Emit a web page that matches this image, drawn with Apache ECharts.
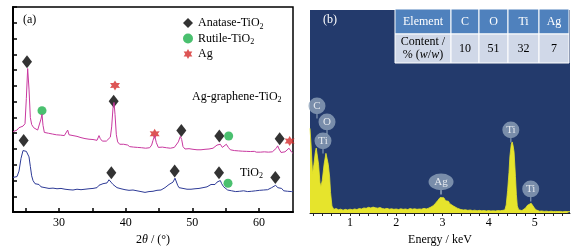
<!DOCTYPE html>
<html>
<head>
<meta charset="utf-8">
<script src="https://cdn.jsdelivr.net/npm/echarts@6/dist/echarts.min.js"></script>
<style>
  html, body { margin: 0; padding: 0; background: #fff; }
  #chart { width: 575px; height: 251px; }
</style>
</head>
<body>
<div id="chart"></div>
<script>
// XRD patterns, [2theta, intensity a.u.]
const tio2Pattern = [
  [23.1,2.2],[23.4,2.3],[23.7,2.25],[24.0,2.6],[24.3,3.4],[24.6,3.9],[24.9,4.0],[25.1,3.85],[25.3,3.9],[25.5,3.5],
  [25.7,2.9],[25.9,2.3],[26.1,2.0],[26.4,1.8],[26.7,1.7],[27.0,1.75],[27.3,1.6],[27.6,1.65],[27.9,1.55],[28.2,1.62],
  [28.5,1.5],[28.8,1.58],[29.1,1.52],[29.4,1.6],[29.7,1.48],[30.0,1.55],[30.3,1.5],[30.6,1.58],[30.9,1.45],[31.2,1.52],
  [31.5,1.42],[31.8,1.5],[32.1,1.4],[32.4,1.48],[32.7,1.45],[33.0,1.52],[33.3,1.42],[33.6,1.5],[33.9,1.45],[34.2,1.55],
  [34.5,1.48],[34.8,1.58],[35.1,1.5],[35.4,1.6],[35.7,1.55],[36.0,1.7],[36.3,1.65],[36.6,1.8],[36.9,1.75],[37.2,1.85],
  [37.5,2.05],[37.8,1.9],[38.1,1.75],[38.4,1.7],[38.7,1.55],[39.0,1.6],[39.3,1.48],[39.6,1.55],[39.9,1.42],[40.2,1.5],
  [40.5,1.38],[40.8,1.45],[41.1,1.4],[41.4,1.48],[41.7,1.35],[42.0,1.42],[42.3,1.3],[42.6,1.38],[42.9,1.25],[43.2,1.35],
  [43.5,1.3],[43.8,1.4],[44.1,1.32],[44.4,1.42],[44.7,1.38],[45.0,1.45],[45.3,1.4],[45.6,1.5],[45.9,1.55],[46.2,1.6],
  [46.5,1.75],[46.8,1.85],[47.1,1.9],[47.4,2.15],[47.6,2.1],[47.8,1.7],[48.0,1.55],[48.3,1.45],[48.6,1.5],[48.9,1.4],
  [49.2,1.45],[49.5,1.38],[49.8,1.45],[50.1,1.4],[50.4,1.48],[50.7,1.42],[51.0,1.5],[51.3,1.45],[51.6,1.55],[51.9,1.5],
  [52.2,1.6],[52.5,1.7],[52.8,1.75],[53.1,1.8],[53.4,1.75],[53.7,1.9],[54.0,1.85],[54.2,2.0],[54.4,1.8],[54.7,1.6],
  [55.0,1.5],[55.3,1.4],[55.6,1.45],[55.9,1.35],[56.2,1.42],[56.5,1.3],[56.8,1.38],[57.1,1.32],[57.4,1.4],[57.7,1.35],
  [58.0,1.42],[58.3,1.3],[58.6,1.38],[58.9,1.32],[59.2,1.4],[59.5,1.35],[59.8,1.42],[60.1,1.38],[60.4,1.45],[60.7,1.4],
  [61.0,1.45],[61.3,1.42],[61.6,1.5],[61.9,1.55],[62.2,1.65],[62.5,1.7],[62.8,1.55],[63.1,1.45],[63.4,1.5],[63.7,1.35],
  [64.0,1.42],[64.3,1.32],[64.6,1.38],[64.9,1.3],[65.1,1.32]
];
const agGraphenePattern = [
  [23.1,5.1],[23.4,5.15],[23.7,5.2],[24.0,5.35],[24.3,5.3],[24.6,5.45],[24.9,5.6],[25.1,7.2],[25.3,9.1],[25.5,7.8],
  [25.7,6.0],[25.9,5.55],[26.2,5.35],[26.5,5.45],[26.8,5.2],[27.1,5.3],[27.3,5.9],[27.45,6.2],[27.6,5.5],[27.8,5.05],
  [28.1,5.1],[28.4,5.0],[28.7,5.08],[29.0,4.95],[29.3,5.05],[29.6,4.9],[29.9,4.98],[30.2,4.88],[30.5,4.95],[30.8,4.85],
  [31.1,4.95],[31.3,5.2],[31.5,4.9],[31.8,4.8],[32.1,4.85],[32.4,4.75],[32.7,4.8],[33.0,4.68],[33.3,4.72],[33.6,4.62],
  [33.9,4.66],[34.2,4.58],[34.5,4.62],[34.8,4.55],[35.1,4.6],[35.4,4.52],[35.7,4.55],[36.0,4.85],[36.2,4.65],[36.5,4.5],
  [36.8,4.55],[37.1,4.5],[37.4,4.62],[37.7,4.75],[37.9,5.4],[38.1,6.6],[38.25,6.95],[38.4,6.2],[38.6,4.9],[38.8,4.45],
  [39.1,4.3],[39.4,4.25],[39.7,4.3],[40.0,4.2],[40.3,4.25],[40.6,4.15],[40.9,4.22],[41.2,4.12],[41.5,4.2],[41.8,4.1],
  [42.1,4.18],[42.4,4.08],[42.7,4.15],[43.0,4.05],[43.3,4.12],[43.6,4.08],[43.9,4.25],[44.1,4.55],[44.35,4.85],[44.6,4.4],
  [44.9,4.1],[45.2,4.05],[45.5,4.12],[45.8,4.02],[46.1,4.08],[46.4,4.0],[46.7,4.05],[47.0,4.02],[47.3,4.1],[47.6,4.2],
  [47.9,4.45],[48.2,4.8],[48.4,4.6],[48.6,4.15],[48.9,4.0],[49.2,3.98],[49.5,4.02],[49.8,3.92],[50.1,3.98],[50.4,3.9],
  [50.7,3.95],[51.0,3.88],[51.3,3.95],[51.6,3.9],[51.9,3.98],[52.2,3.92],[52.5,4.0],[52.8,4.0],[53.1,4.05],[53.4,4.1],
  [53.7,4.25],[54.0,4.35],[54.2,4.3],[54.5,4.1],[54.8,4.2],[55.1,4.3],[55.4,4.1],[55.7,3.95],[56.0,3.85],[56.3,3.9],
  [56.6,3.82],[56.9,3.88],[57.2,3.8],[57.5,3.86],[57.8,3.8],[58.1,3.85],[58.4,3.78],[58.7,3.84],[59.0,3.78],[59.3,3.85],
  [59.6,3.8],[59.9,3.86],[60.2,3.8],[60.5,3.88],[60.8,3.82],[61.1,3.86],[61.4,3.8],[61.7,3.85],[62.0,3.82],[62.3,3.9],
  [62.6,4.05],[62.8,4.2],[63.0,4.0],[63.3,3.78],[63.6,3.75],[63.9,3.82],[64.2,3.9],[64.5,4.05],[64.7,4.0],[64.9,3.8],
  [65.1,3.72]
];
// phase markers [2theta, height]
const anatasePeaks = [[24.7,4.54],[37.85,2.5],[47.35,2.6],[54.0,2.5],[62.45,2.19],
                      [25.2,9.53],[38.2,7.02],[48.35,5.17],[54.05,4.82],[63.1,4.65]];
const rutilePeaks = [[55.35,1.83],[27.45,6.43],[55.45,4.82]];
const silverPeaks = [[38.4,8.03],[44.35,4.96],[64.6,4.5]];
const xrdTickValues = [25, 30, 35, 40, 45, 50, 55, 60];
const xrdLabelValues = [30, 40, 50, 60];

// EDS spectrum [keV, counts a.u.]
const edsSpectrum = [
  [0.135,41.7],[0.16,33],[0.19,19.5],[0.22,24],[0.25,30],[0.27,32],[0.29,31.5],[0.32,24],[0.35,15],[0.37,13],
  [0.4,16],[0.44,24],[0.48,29.4],[0.51,29],[0.53,24],[0.56,17.7],[0.58,10],[0.61,3.4],[0.65,1.8],[0.7,2.2],
  [0.75,1.6],[0.8,1.9],[0.85,1.4],[0.9,1.8],[0.95,1.5],[1.0,1.9],[1.05,1.6],[1.1,2.0],[1.15,1.7],[1.2,2.2],
  [1.25,2.0],[1.3,2.5],[1.35,2.3],[1.4,2.8],[1.45,2.5],[1.5,2.9],[1.55,2.6],[1.6,2.4],[1.65,2.7],[1.7,2.2],
  [1.75,2.0],[1.8,2.3],[1.85,1.9],[1.9,2.1],[1.95,1.8],[2.0,2.0],[2.05,1.7],[2.1,2.1],[2.15,1.8],[2.2,2.0],
  [2.25,1.7],[2.3,2.2],[2.35,1.9],[2.4,2.1],[2.45,1.8],[2.5,2.0],[2.55,1.9],[2.6,2.3],[2.65,2.0],[2.7,2.4],
  [2.75,2.9],[2.8,3.6],[2.85,4.8],[2.9,6.2],[2.95,7.6],[2.99,8.4],[3.03,7.5],[3.07,6.0],[3.1,5.2],[3.13,5.8],
  [3.16,4.6],[3.2,4.1],[3.24,3.4],[3.28,2.8],[3.32,2.4],[3.36,2.0],[3.4,1.7],[3.45,1.5],[3.5,1.6],[3.55,1.3],
  [3.6,1.5],[3.65,1.2],[3.7,1.4],[3.75,1.1],[3.8,1.3],[3.85,1.1],[3.9,1.2],[3.95,1.0],[4.0,1.2],[4.05,1.0],
  [4.1,1.1],[4.15,1.0],[4.2,1.2],[4.25,1.1],[4.3,1.3],[4.35,1.5],[4.38,4],[4.41,11],[4.44,20],[4.46,28],
  [4.49,34],[4.51,35],[4.53,33],[4.55,30],[4.58,18],[4.6,9],[4.62,3.5],[4.65,1.6],[4.68,1.3],[4.72,1.2],
  [4.76,1.6],[4.8,2.5],[4.84,3.8],[4.88,4.6],[4.92,4.8],[4.95,4.2],[4.98,2.8],[5.02,1.6],[5.06,1.0],[5.1,0.9],
  [5.15,1.0],[5.2,0.8],[5.25,0.9],[5.3,0.7],[5.35,0.9],[5.4,0.7],[5.45,0.8],[5.5,0.7],[5.55,0.8],[5.6,0.6],
  [5.65,0.8],[5.7,0.7],[5.76,0.7]
];
// element callouts: name, [keV, height of balloon]
const edsElements = ['C', 'O', 'Ti', 'Ag', 'Ti', 'Ti'];
const edsCallouts = [[0.286,52.7],[0.503,44.8],[0.416,35.5],[2.97,15.3],[4.48,40.9],[4.91,11.8]];
const edsTickValues = [0.2,0.4,0.6,0.8,1,1.2,1.4,1.6,1.8,2,2.2,2.4,2.6,2.8,3,3.2,3.4,3.6,3.8,4,4.2,4.4,4.6,4.8,5,5.2,5.4,5.6];
const edsLabelValues = [1, 2, 3, 4, 5];

// composition table
const tableHeader = ['Element', 'C', 'O', 'Ti', 'Ag'];
const tableContent = ['10', '51', '32', '7'];

const serif = '"Liberation Serif", "DejaVu Serif", serif';
const starPath = 'path://M10,0L12.75,5.24L18.66,5L15.5,10L18.66,15L12.75,14.76L10,20L7.25,14.76L1.34,15L4.5,10L1.34,5L7.25,5.24Z';
const balloonPath = 'path://M10,0A10,10,0,1,1,9.99,0ZM9.2,19L10.8,19L10.8,25L9.2,25Z';
const subRich = {
  sub: { fontSize: 8, fontFamily: serif, verticalAlign: 'bottom', padding: [7, 0, 0, 0] },
  it: { fontStyle: 'italic', fontFamily: serif, fontSize: 12 }
};

const chart = echarts.init(document.getElementById('chart'));

// table graphic built from the arrays above
const colX = [395, 451, 479, 508, 539, 569];
const rowY = [9, 34, 63];
const tableGraphic = [];
tableHeader.forEach((h, i) => {
  tableGraphic.push({
    type: 'rect',
    shape: { x: colX[i], y: rowY[0], width: colX[i + 1] - colX[i], height: rowY[1] - rowY[0] },
    style: { fill: '#4f81bd', stroke: '#fff', lineWidth: 1 }
  });
  tableGraphic.push({
    type: 'text',
    x: (colX[i] + colX[i + 1]) / 2, y: (rowY[0] + rowY[1]) / 2,
    style: { text: h, fill: '#fff', font: '12px ' + serif, align: 'center', verticalAlign: 'middle' }
  });
  const content = i === 0 ? 'Content /\n% ({it|w}/{it|w})' : tableContent[i - 1];
  tableGraphic.push({
    type: 'rect',
    shape: { x: colX[i], y: rowY[1], width: colX[i + 1] - colX[i], height: rowY[2] - rowY[1] },
    style: { fill: '#d0d8e8', stroke: '#fff', lineWidth: 1 }
  });
  tableGraphic.push({
    type: 'text',
    x: (colX[i] + colX[i + 1]) / 2, y: (rowY[1] + rowY[2]) / 2,
    style: {
      text: content, fill: '#000', font: '12px ' + serif, align: 'center', verticalAlign: 'middle',
      lineHeight: 13, rich: { it: { fontStyle: 'italic', fontFamily: serif, fontSize: 12, fill: '#000' } }
    }
  });
});

const option = {
  animation: false,
  grid: [
    { left: 13, top: 7, width: 280, height: 206, show: true, borderColor: '#000', borderWidth: 1.5 },
    { left: 310, top: 10, width: 260, height: 203, show: true, backgroundColor: '#233a6c', borderWidth: 0 }
  ],
  xAxis: [
    {
      gridIndex: 0, type: 'value', min: 23.1, max: 65.1,
      axisLine: { lineStyle: { color: '#000', width: 2 } },
      axisTick: { inside: true, length: 4, customValues: xrdTickValues, lineStyle: { color: '#000', width: 1.5 } },
      axisLabel: { customValues: xrdLabelValues, color: '#000', fontSize: 12, fontFamily: serif, margin: 5 },
      splitLine: { show: false },
      name: '2{it|θ} / (°)', nameLocation: 'middle', nameGap: 21,
      nameTextStyle: { color: '#000', fontSize: 12, fontFamily: serif, rich: subRich }
    },
    {
      gridIndex: 1, type: 'value', min: 0.135, max: 5.76,
      axisLine: { lineStyle: { color: '#222', width: 1 } },
      axisTick: { length: 3, customValues: edsTickValues, lineStyle: { color: '#222' } },
      axisLabel: { customValues: edsLabelValues, color: '#000', fontSize: 12, fontFamily: serif, margin: 4 },
      splitLine: { show: false },
      name: 'Energy / keV', nameLocation: 'middle', nameGap: 21,
      nameTextStyle: { color: '#000', fontSize: 12, fontFamily: serif }
    }
  ],
  yAxis: [
    {
      gridIndex: 0, type: 'value', min: 0, max: 13, interval: 1,
      axisLine: { show: true, lineStyle: { color: '#000', width: 2 } },
      axisTick: { show: true, inside: true, length: 4, lineStyle: { color: '#000', width: 1.5 } },
      axisLabel: { show: false },
      splitLine: { show: false }
    },
    { gridIndex: 1, type: 'value', min: 0, max: 100, show: false }
  ],
  legend: {
    data: ['Anatase-TiO2', 'Rutile-TiO2', 'Ag'],
    orient: 'vertical', left: 178, top: 12,
    itemWidth: 10, itemHeight: 10, itemGap: 2,
    formatter: (name) => name.replace('TiO2', 'TiO{sub|2}'),
    textStyle: { color: '#000', fontSize: 12, fontFamily: serif, rich: subRich }
  },
  graphic: [
    { type: 'text', x: 23, y: 14, style: { text: '(a)', fill: '#000', font: '12px ' + serif } },
    { type: 'text', x: 192, y: 89, style: { text: 'Ag-graphene-TiO{sub|2}', fill: '#000', font: '12px ' + serif, rich: subRich } },
    { type: 'text', x: 240, y: 165, style: { text: 'TiO{sub|2}', fill: '#000', font: '12px ' + serif, rich: subRich } },
    { type: 'text', x: 323, y: 14, style: { text: '(b)', fill: '#fff', font: '12px ' + serif } },
    ...tableGraphic
  ],
  series: [
    {
      name: 'TiO2 pattern', type: 'line', xAxisIndex: 0, yAxisIndex: 0,
      data: tio2Pattern, symbol: 'none', lineStyle: { color: '#2d3a96', width: 1 }
    },
    {
      name: 'Ag-graphene pattern', type: 'line', xAxisIndex: 0, yAxisIndex: 0,
      data: agGraphenePattern, symbol: 'none', lineStyle: { color: '#c8389f', width: 1 }
    },
    {
      name: 'Anatase-TiO2', type: 'scatter', xAxisIndex: 0, yAxisIndex: 0, clip: false,
      data: anatasePeaks, symbol: 'diamond', symbolSize: [10, 13], itemStyle: { color: '#000' }
    },
    {
      name: 'Rutile-TiO2', type: 'scatter', xAxisIndex: 0, yAxisIndex: 0, clip: false,
      data: rutilePeaks, symbol: 'circle', symbolSize: 9, itemStyle: { color: '#1db04b' }
    },
    {
      name: 'Ag', type: 'scatter', xAxisIndex: 0, yAxisIndex: 0, clip: false,
      data: silverPeaks, symbol: starPath, symbolSize: 10, itemStyle: { color: '#d42a2a' }
    },
    {
      name: 'EDS', type: 'line', xAxisIndex: 1, yAxisIndex: 1,
      data: edsSpectrum, symbol: 'none',
      lineStyle: { color: '#e6e42c', width: 0.8 },
      areaStyle: { color: '#e6e42c', opacity: 1 }
    },
    {
      name: 'EDS elements', type: 'scatter', xAxisIndex: 1, yAxisIndex: 1, clip: false,
      data: edsCallouts.map((p, i) => ({
        value: p, name: edsElements[i],
        symbolSize: edsElements[i] === 'Ag' ? [25, 21] : [17, 21]
      })),
      symbol: balloonPath, symbolOffset: [0, 2],
      itemStyle: { color: '#8fa3ba' },
      label: {
        show: true, position: 'inside', formatter: '{b}', offset: [0, -2],
        color: '#fff', fontSize: 11, fontFamily: serif
      }
    }
  ]
};

chart.setOption(option);
</script>
</body>
</html>
